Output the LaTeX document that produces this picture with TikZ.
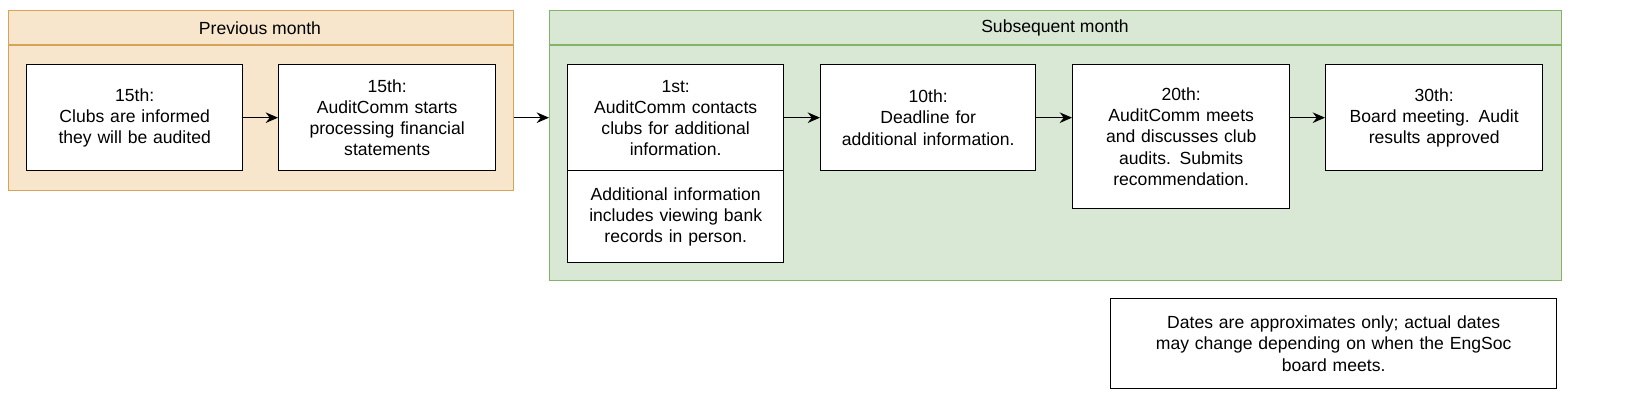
\documentclass[tikz,border=0pt]{standalone}
\usepackage{fontspec}
\setmainfont{Liberation Sans}
\usetikzlibrary{positioning,arrows.meta}
\definecolor{prevfill}{HTML}{F8E6CC}
\definecolor{prevline}{HTML}{D6A35A}
\definecolor{subsfill}{HTML}{D9E8D5}
\definecolor{subsline}{HTML}{82B366}
\tikzset{
    phase/.style={draw, fill=white, thick, align=center, anchor=north west, inner sep=2pt, font=\fontsize{10}{12}\selectfont},
    group/.style={draw, thick, anchor=north west},
    flow/.style={-{Stealth[length=7pt,width=6pt]}, thick}
}
\begin{document}
\begin{tikzpicture}[x=0.02cm, y=-0.02cm]
% month groups
\node[group, fill=prevfill, draw=prevline, minimum width=10.1cm, minimum height=3.6cm] (prev) at (8,10) {};
\node[group, fill=subsfill, draw=subsline, minimum width=20.24cm, minimum height=5.4cm] (subs) at (549,10) {};
\draw[thick, prevline] (8,45) -- (513,45);
\draw[thick, subsline] (549,45) -- (1561,45);
\node[font=\fontsize{10}{12}\selectfont] (prevtitle) at (260,28) {Previous month};
\node[font=\fontsize{10}{12}\selectfont] (substitle) at (1055,28) {Subsequent month};
% steps
\node[phase, minimum width=4.32cm, minimum height=2.12cm, text width=4cm] (inform) at (26,64) {15th:\\Clubs are informed\\they will be audited};
\node[phase, minimum width=4.34cm, minimum height=2.12cm, text width=4cm] (process) at (278,64) {15th:\\AuditComm starts\\processing financial\\statements};
\node[phase, minimum width=4.32cm, minimum height=2.12cm, text width=4.1cm] (contact) at (567,64) {1st:\\AuditComm contacts\\clubs for additional\\information.};
\node[phase, minimum width=4.32cm, minimum height=1.84cm, text width=4.1cm] (bank) at (567,170) {Additional information\\includes viewing bank\\records in person.};
\node[phase, minimum width=4.3cm, minimum height=2.12cm, text width=4.1cm] (deadline) at (820,64) {10th:\\Deadline for\\additional information.};
\node[phase, minimum width=4.34cm, minimum height=2.88cm, text width=4.1cm] (meets) at (1072,64) {20th:\\AuditComm meets\\and discusses club\\audits. Submits\\recommendation.};
\node[phase, minimum width=4.34cm, minimum height=2.12cm, text width=4.1cm] (board) at (1325,64) {30th:\\Board meeting. Audit\\results approved};
% note
\node[phase, minimum width=8.92cm, minimum height=1.8cm, text width=8.6cm] (note) at (1110,298) {Dates are approximates only; actual dates\\may change depending on when the EngSoc\\board meets.};
% connectors
\draw[flow] (inform.east) -- (process.west);
\draw[flow] (process.east -| prev.east) -- (process.east -| subs.west);
\draw[flow] (contact.east) -- (deadline.west);
\draw[flow] (deadline.east) -- (deadline.east -| meets.west);
\draw[flow] (deadline.east -| meets.east) -- (board.west);
\pgfresetboundingbox
\useasboundingbox (0,0) rectangle (1628,411);
\end{tikzpicture}
\end{document}
